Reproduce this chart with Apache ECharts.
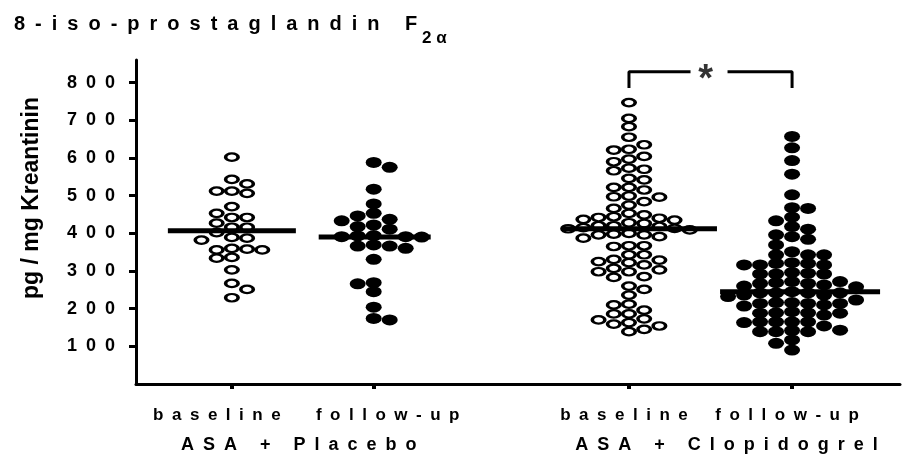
<!DOCTYPE html>
<html><head><meta charset="utf-8">
<script src="https://cdn.jsdelivr.net/npm/echarts@6/dist/echarts.min.js"></script>
<style>html,body{margin:0;padding:0;background:#fff}#c{width:904px;height:468px}</style>
</head><body><div id="c"></div>
<script>
// ---- data ----
const groupNames = ['baseline', 'follow-up', 'baseline', 'follow-up'];
const treatmentNames = ['ASA + Placebo', 'ASA + Clopidogrel'];
const groupSlots = [1, 2, 3.8, 4.95];
const treatmentSlots = [1.5, 4.375];
const yTicks = [100, 200, 300, 400, 500, 600, 700, 800];

const placeboBaseline = [602, 543, 531, 512, 512, 506, 471, 453, 442, 442, 427, 416, 416, 402,
  389, 387, 382, 360, 358, 356, 356, 336, 334, 303, 267, 251, 229];
const placeboFollowup = [588, 575, 517, 478, 453, 446, 437, 433, 422, 418, 411, 394, 393, 391, 391, 390,
  369, 366, 366, 360, 331, 269, 266, 245, 204, 174, 170];
const clopidogrelBaseline = [747, 705, 683, 655, 635, 623, 621, 604, 597, 590, 573, 570, 566, 546, 542,
  522, 522, 515, 499, 497, 496, 484, 475, 466, 453, 449, 444, 442, 440, 437, 435, 428,
  426, 420, 420, 418, 415, 413, 412, 409, 400, 398, 396, 396, 391, 387, 367, 367, 365,
  343, 343, 331, 329, 325, 322, 316, 307, 303, 298, 298, 285, 283, 260, 251, 236,
  212, 210, 196, 186, 186, 173, 170, 163, 159, 154, 145, 139];
const clopidogrelFollowup = [657, 627, 593, 557, 502, 468, 466, 443, 433, 418, 411, 396, 391, 384, 369,
  351, 343, 343, 343, 322, 320, 320, 316, 316, 316, 296, 294, 292, 292, 292,
  272, 272, 269, 267, 267, 263, 260, 258, 245, 242, 242, 242, 242, 236, 236, 232,
  223, 216, 216, 214, 214, 214, 210, 207, 192, 189, 189, 188, 188, 183,
  165, 165, 165, 165, 163, 154, 143, 142, 139, 139, 139, 117, 108, 90];
const medians = [407, 390, 412, 245];
const significance = { from: 2, to: 3, level: 829, drop: 786, mark: '*' };

// ---- rendering ----
const FONT = '"Liberation Sans", Arial, sans-serif';
const sp = s => s.split('').join('\u2002');
const groupsData = [placeboBaseline, placeboFollowup, clopidogrelBaseline, clopidogrelFollowup];
const filled = [false, true, false, true];
const labelShift = [-15, 14, -5, -5];
const treatShift = [-4, 16];
const medianExtent = [[64, 64], [55, 57], [67, 88], [72, 88]];

const chart = echarts.init(document.getElementById('c'), null, { renderer: 'canvas' });

const pad = s => s < 0 ? [0, -2 * s, 0, 0] : [0, 0, 0, 2 * s];
const xRich = {};
labelShift.forEach((s, i) => {
  xRich['g' + i] = { fontFamily: FONT, fontSize: 17, fontWeight: 'bold', color: '#000', padding: pad(s) };
});
const tRich = {};
treatShift.forEach((s, i) => {
  tRich['t' + i] = { fontFamily: FONT, fontSize: 18, fontWeight: 'bold', color: '#000', padding: pad(s) };
});

const base = {
  animation: false,
  backgroundColor: '#fff',
  title: [
    { text: sp('8-iso-prostaglandin F'), left: 9, top: 9,
      textStyle: { fontFamily: FONT, fontSize: 20, fontWeight: 'bold', color: '#000' } },
    { text: '2 α', left: 417, top: 25,
      textStyle: { fontFamily: FONT, fontSize: 17, fontWeight: 'bold', color: '#000' } }
  ],
  grid: { left: 136, right: 4, top: 60, bottom: 84, outerBoundsMode: 'none' },
  xAxis: [
    { type: 'value', min: 0.324, max: 5.711, position: 'bottom',
      axisLine: { show: true, onZero: false, lineStyle: { color: '#000', width: 3 } },
      axisTick: { show: true, customValues: groupSlots, length: 5, lineStyle: { color: '#000', width: 4 } },
      axisLabel: { show: true, customValues: groupSlots, margin: 23,
        formatter: v => { const i = groupSlots.findIndex(s => Math.abs(s - v) < 1e-6); return '{g' + i + '|' + sp(groupNames[i]) + '}'; },
        rich: xRich },
      splitLine: { show: false } },
    { type: 'value', min: 0.324, max: 5.711, position: 'bottom', offset: 0,
      axisLine: { show: false }, axisTick: { show: false },
      axisLabel: { show: true, customValues: treatmentSlots, margin: 52,
        formatter: v => { const i = treatmentSlots.findIndex(s => Math.abs(s - v) < 1e-6); return '{t' + i + '|' + sp(treatmentNames[i]) + '}'; },
        rich: tRich },
      splitLine: { show: false } }
  ],
  yAxis: {
    type: 'value', min: 0, max: 860,
    name: 'pg / mg Kreantinin', nameLocation: 'middle', nameRotate: 90, nameGap: 93,
    nameTextStyle: { fontFamily: FONT, fontSize: 23, fontWeight: 'bold', color: '#000', padding: [0, 0, 0, 48] },
    axisLine: { show: true, lineStyle: { color: '#000', width: 3 } },
    axisTick: { show: true, customValues: yTicks, length: 7, lineStyle: { color: '#000', width: 3 } },
    axisLabel: { show: true, customValues: yTicks, margin: 21, formatter: v => sp(String(v)),
      fontFamily: FONT, fontSize: 18, fontWeight: 'bold', color: '#000' },
    splitLine: { show: false }
  },
  series: []
};
chart.setOption(base);

const p0 = chart.convertToPixel({ gridIndex: 0 }, [0, 0]);
const p1 = chart.convertToPixel({ gridIndex: 0 }, [1, 100]);
const pxPerX = p1[0] - p0[0];
const pxPerY = (p0[1] - p1[1]) / 100;

function swarm(values, slot, dxPx, dyPx) {
  const order = values.map((v, i) => i).sort((a, b) => values[b] - values[a]);
  const placed = [];
  const out = [];
  let right = 0, left = 0;
  order.forEach(i => {
    const py = values[i] * pxPerY;
    let col = 0;
    for (let k = 0; k < 30; k++) {
      const cands = k === 0 ? [0] : (right <= left ? [k, -k] : [-k, k]);
      let found = null;
      for (const c of cands) {
        if (!placed.some(p => p.col === c && Math.abs(p.py - py) < dyPx)) { found = c; break; }
      }
      if (found !== null) { col = found; break; }
    }
    if (col > 0) right++; else if (col < 0) left++;
    placed.push({ col, py });
    out.push([slot + col * dxPx / pxPerX, values[i]]);
  });
  return out;
}

const series = [];
groupsData.forEach((vals, g) => {
  const f = filled[g];
  series.push({
    type: 'scatter', symbol: 'circle', z: 3,
    symbolSize: f ? [16, 11] : [12.5, 7.5],
    itemStyle: f ? { color: '#000', opacity: 1 } : { color: '#fff', borderColor: '#000', borderWidth: 2.8, opacity: 1 },
    data: swarm(vals, groupSlots[g], f ? 16 : 15.2, f ? 8.4 : 7.6)
  });
  const [l, r] = medianExtent[g];
  series.push({
    type: 'line', symbol: 'none', z: 4, silent: true,
    lineStyle: { color: '#000', width: 5 },
    data: [[groupSlots[g] - l / pxPerX, medians[g]], [groupSlots[g] + r / pxPerX, medians[g]]]
  });
});
const sA = groupSlots[significance.from], sB = groupSlots[significance.to];
const mid = (sA + sB) / 2, gapL = 20 / pxPerX, gapR = 17 / pxPerX;
series.push({ type: 'line', symbol: 'none', silent: true, lineStyle: { color: '#000', width: 3 },
  data: [[sA, significance.drop], [sA, significance.level], [mid - gapL, significance.level]] });
series.push({ type: 'line', symbol: 'none', silent: true, lineStyle: { color: '#000', width: 3 },
  data: [[mid + gapR, significance.level], [sB, significance.level], [sB, significance.drop]] });
series.push({ type: 'scatter', symbol: 'circle', symbolSize: 1, itemStyle: { color: 'rgba(0,0,0,0)' },
  label: { show: true, position: 'inside', formatter: significance.mark, offset: [-5, 9],
    fontFamily: FONT, fontSize: 38, fontWeight: 'bold', color: '#000' },
  data: [[mid, significance.level]] });

chart.setOption({ series });
</script></body></html>
